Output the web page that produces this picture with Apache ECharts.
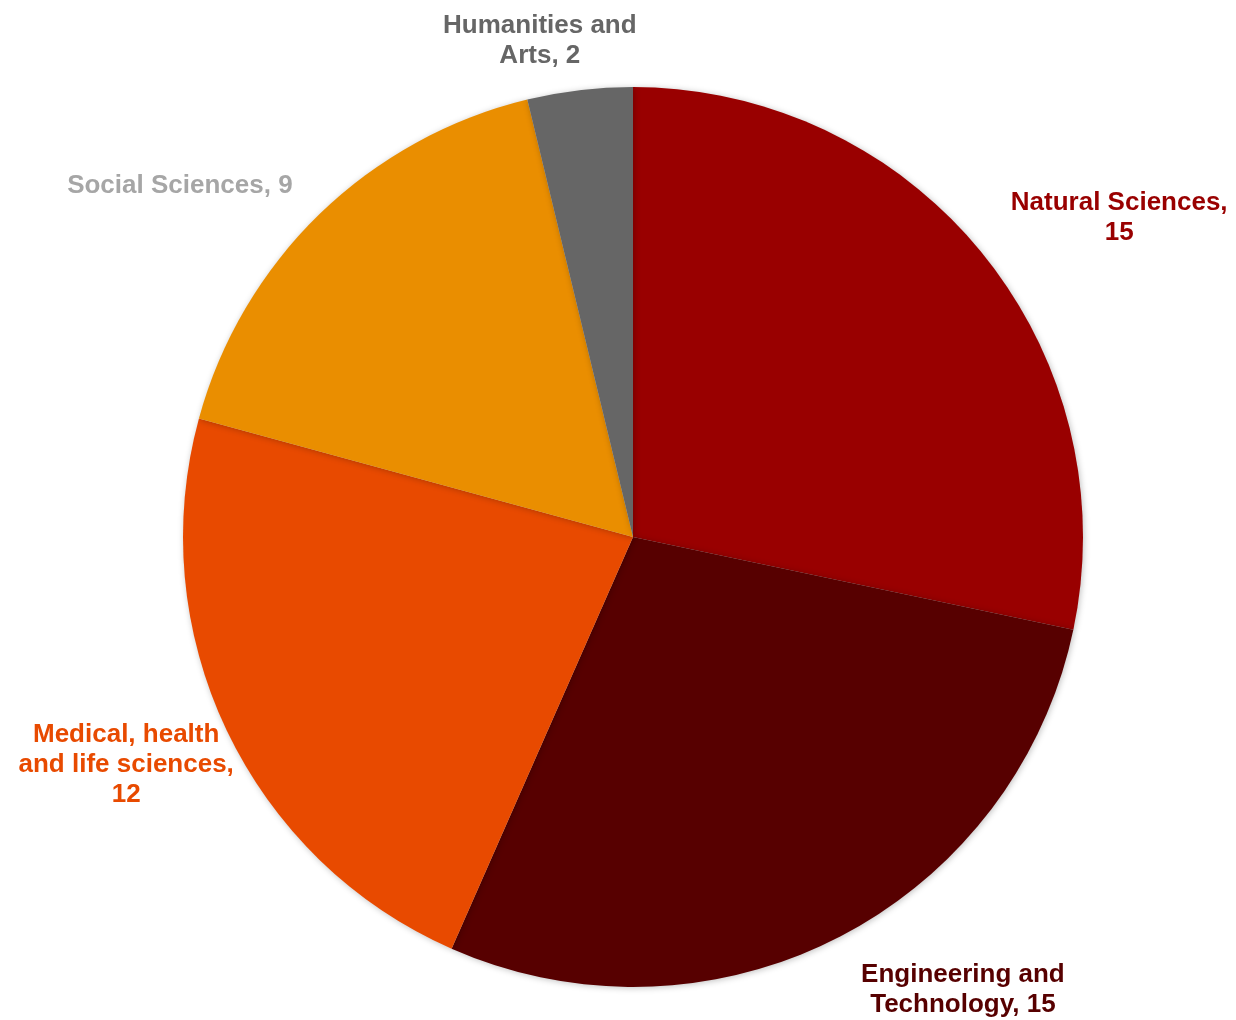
<!DOCTYPE html>
<html>
<head>
<meta charset="utf-8">
<script src="https://cdn.jsdelivr.net/npm/echarts@6/dist/echarts.min.js"></script>
<style>html,body{margin:0;padding:0;background:#fff}#c{width:1236px;height:1020px}</style>
</head>
<body>
<div id="c"></div>
<script>
const categories = ['Natural Sciences', 'Engineering and Technology', 'Medical, health and life sciences', 'Social Sciences', 'Humanities and Arts'];
const values = [15, 15, 12, 9, 2];
const labelTexts = ['Natural Sciences,\n15', 'Engineering and\nTechnology, 15', 'Medical, health\nand life sciences,\n12', 'Social Sciences, 9', 'Humanities and\nArts, 2'];
const sliceColors = ['#990000', '#570000', '#E84A00', '#EA8E00', '#666666'];
const labelColors = ['#990000', '#570000', '#E84A00', '#A6A6A6', '#666666'];
const lineLen = [61, 56, 73, 43, 52];
const lineLen2 = [-20, -4, -72, -2, -62];

const chart = echarts.init(document.getElementById('c'));
chart.setOption({
  animation: false,
  series: [{
    type: 'pie',
    center: [633, 537],
    radius: 450,
    startAngle: 90,
    clockwise: true,
    avoidLabelOverlap: false,
    itemStyle: { borderWidth: 0, shadowBlur: 6, shadowColor: 'rgba(0,0,0,0.25)', shadowOffsetX: 1, shadowOffsetY: 1 },
    label: {
      show: true,
      position: 'outside',
      distanceToLabelLine: 0,
      fontFamily: 'Liberation Sans, Arial, sans-serif',
      fontWeight: 'bold',
      fontSize: 26,
      lineHeight: 30,
      overflow: 'none'
    },
    emphasis: { disabled: true },
    labelLayout: function (p) {
      return { x: p.labelRect.x + p.labelRect.width / 2 + 1, y: p.labelRect.y + p.labelRect.height / 2 + 2.5, align: 'center', verticalAlign: 'middle' };
    },
    data: categories.map((n, i) => ({
      name: n,
      value: values[i],
      itemStyle: { color: sliceColors[i] },
      label: { formatter: labelTexts[i], color: labelColors[i] },
      labelLine: { show: false, length: lineLen[i], length2: lineLen2[i] }
    }))
  }]
});
</script>
</body>
</html>
